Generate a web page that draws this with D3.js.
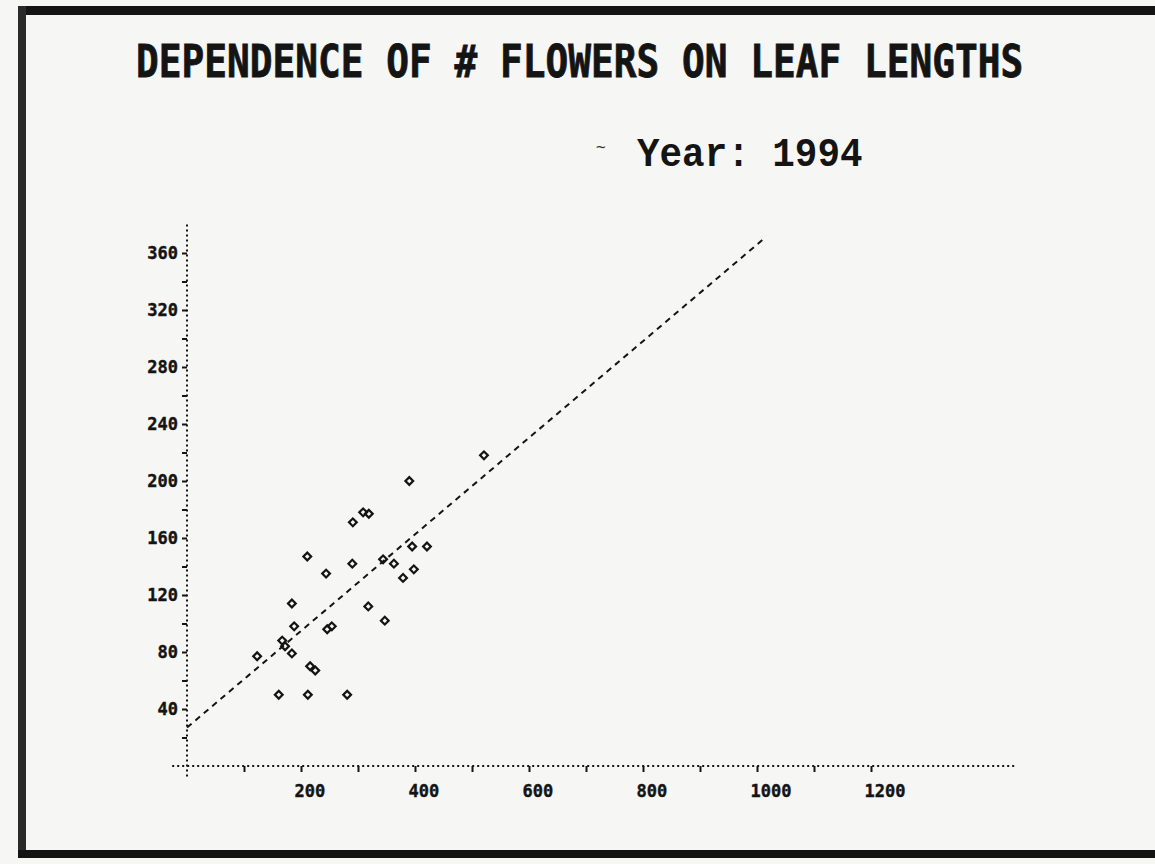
<!DOCTYPE html>
<html>
<head>
<meta charset="utf-8">
<script src="https://cdn.jsdelivr.net/npm/d3@7"></script>
<style>
  html, body { margin: 0; padding: 0; background: #f6f6f4; overflow: hidden; }
  svg { display: block; }
</style>
</head>
<body>
<svg id="chart" width="1155" height="864"></svg>
<script>
// leaf length vs number of flowers
const leafLength = [521, 390, 309, 319, 291, 211, 290, 244, 395, 421, 344, 363, 398, 379,
                    184, 318, 347, 188, 246, 254, 167, 172, 123, 184, 216, 225, 161, 212, 281];
const flowers    = [218, 200, 178, 177, 171, 147, 142, 135, 154, 154, 145, 142, 138, 132,
                    114, 112, 102, 98, 96, 98, 88, 84, 77, 79, 70, 67, 50, 50, 50];

// fitted line end points
const fitX = [0, 1015];
const fitY = [27, 371];

const yTicks = [20, 40, 60, 80, 100, 120, 140, 160, 180, 200, 220, 240, 260, 280, 300, 320, 340, 360];
const xTicks = [100, 200, 300, 400, 500, 600, 700, 800, 900, 1000, 1100, 1200];

const titleText = "DEPENDENCE OF # FLOWERS ON LEAF LENGTHS";
const yearText = "Year: 1994";

const svg = d3.select("#chart");
const ink = "#141414";

const x = d3.scaleLinear().domain([0, 1200]).range([187, 871]);
const y = d3.scaleLinear().domain([0, 360]).range([766, 253]);

// frame
svg.append("rect").attr("x", 18).attr("y", 6).attr("width", 1137).attr("height", 9).attr("fill", ink);
svg.append("rect").attr("x", 18).attr("y", 6).attr("width", 8).attr("height", 852).attr("fill", "#2a2a2a");
svg.append("rect").attr("x", 18).attr("y", 850).attr("width", 1137).attr("height", 8).attr("fill", ink);

// titles (squeezed horizontally to look like the old printer font)
svg.append("text")
    .attr("transform", "translate(136,77) scale(0.84,1)")
    .attr("font-family", "DejaVu Sans Mono").attr("font-weight", "bold")
    .attr("font-size", 45).attr("fill", ink)
    .attr("stroke", ink).attr("stroke-width", 0.8)
    .text(titleText);

svg.append("text")
    .attr("transform", "translate(637,166) scale(0.94,1)")
    .attr("font-family", "Liberation Mono").attr("font-weight", "bold")
    .attr("font-size", 40).attr("fill", ink)
    .text(yearText);

svg.append("text")
    .attr("x", 596).attr("y", 152)
    .attr("font-family", "DejaVu Sans Mono").attr("font-size", 16).attr("fill", "#333")
    .text("~");

// axes lines (dotted)
svg.append("line")
    .attr("x1", x(0)).attr("x2", x(0))
    .attr("y1", y(380)).attr("y2", y(-8))
    .attr("stroke", ink).attr("stroke-width", 2).attr("stroke-dasharray", "2 3");

svg.append("line")
    .attr("x1", x(-26)).attr("x2", x(1453))
    .attr("y1", y(0)).attr("y2", y(0))
    .attr("stroke", ink).attr("stroke-width", 2).attr("stroke-dasharray", "2 3");

const yAxis = svg.append("g")
    .attr("transform", `translate(${x(0)},0)`)
    .call(d3.axisLeft(y).tickValues(yTicks).tickSize(5).tickPadding(4)
        .tickFormat(d => d % 40 === 0 ? d : ""));

const xAxis = svg.append("g")
    .attr("transform", `translate(0,${y(0)})`)
    .call(d3.axisBottom(x).tickValues(xTicks).tickSize(6).tickPadding(13)
        .tickFormat(d => d % 200 === 0 ? d : ""));

[yAxis, xAxis].forEach(g => {
    g.select(".domain").remove();
    g.selectAll(".tick line").attr("stroke", ink).attr("stroke-width", 2);
    g.selectAll(".tick text")
        .attr("fill", ink)
        .attr("font-family", "DejaVu Sans Mono")
        .attr("font-weight", "bold")
        .attr("font-size", 17)
        .attr("stroke", ink).attr("stroke-width", 0.4);
});
xAxis.selectAll(".tick text").attr("text-anchor", "start").attr("x", -7);

// fitted line
svg.append("line")
    .attr("x1", x(fitX[0])).attr("y1", y(fitY[0]))
    .attr("x2", x(fitX[1])).attr("y2", y(fitY[1]))
    .attr("stroke", ink).attr("stroke-width", 2).attr("stroke-dasharray", "6 5");

// points
const diamond = d3.symbol().type(d3.symbolSquare).size(30);
svg.append("g").selectAll("path")
    .data(leafLength.map((v, i) => ({ x: v, y: flowers[i] })))
    .join("path")
    .attr("d", diamond)
    .attr("transform", d => `translate(${x(d.x)},${y(d.y)}) rotate(45)`)
    .attr("fill", "none")
    .attr("stroke", ink)
    .attr("stroke-width", 2.2);
</script>
</body>
</html>
